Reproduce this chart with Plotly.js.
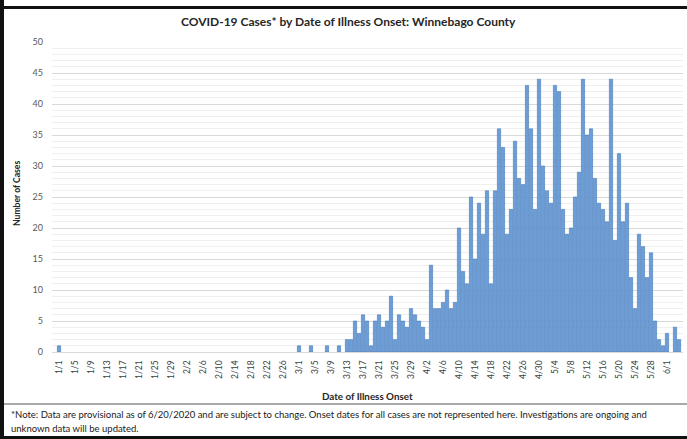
<!DOCTYPE html>
<html>
<head>
<meta charset="utf-8">
<script src="https://cdn.plot.ly/plotly-3.0.1.min.js"></script>
<style>
  html, body { margin: 0; padding: 0; background: #ffffff; }
  #chart { width: 687px; height: 439px; }
</style>
</head>
<body>
<div id="chart"></div>
<script>
// ---- Data (cases by date of illness onset, 2020) ----
const janCases = [1, 0,0,0,0,0,0,0,0,0,0, 0,0,0,0,0,0,0,0,0,0, 0,0,0,0,0,0,0,0,0,0];
const febCases = [0,0,0,0,0,0,0,0,0,0, 0,0,0,0,0,0,0,0,0,0, 0,0,0,0,0,0,0,0,0];
const marCases = [1,0,0,1,0,0,0,1,0,0, 1,0,2,2,5,3,6,5,1,5, 6,4,5,9,2,6,5,4,7,6, 5];
const aprCases = [4,2,14,7,7,8,10,7,8,20, 13,11,25,15,24,19,26,11,26,36, 33,19,23,34,28,27,43,36,23,44];
const mayCases = [30,26,24,43,42,23,19,20,25,29, 44,35,36,28,24,23,21,44,18,32, 21,24,12,7,19,17,12,16,5,2, 1];
const junCases = [3,0,4,2];

const monthLengths = [31, 29, 31, 30, 31, 4];
const monthSeries = [janCases, febCases, marCases, aprCases, mayCases, junCases];

// category labels m/d
const dates = [];
const cases = [];
monthSeries.forEach((arr, mi) => {
  for (let d = 0; d < monthLengths[mi]; d++) {
    dates.push((mi + 1) + '/' + (d + 1));
    cases.push(arr[d]);
  }
});
// every 4th day labelled
const tickDates = dates.filter((_, i) => i % 4 === 0);

const titleText = 'COVID-19 Cases* by Date of Illness Onset: Winnebago County';
const xTitle = 'Date of Illness Onset';
const yTitle = 'Number of Cases';
const noteLine1 = '*Note: Data are provisional as of 6/20/2020 and are subject to change. Onset dates for all cases are not represented here. Investigations are ongoing and';
const noteLine2 = 'unknown data will be updated.';

// ---- geometry helpers (pixel -> paper) ----
const WIDTH = 687, HEIGHT = 439;
const M = { l: 52, r: 4, t: 42, b: 87 };
const PW = WIDTH - M.l - M.r, PH = HEIGHT - M.t - M.b;
const px = x => (x - M.l) / PW;
const py = y => (HEIGHT - M.b - y) / PH;

const FONT = 'Lato, "Open Sans", "Liberation Sans", sans-serif';

const trace = {
  type: 'bar',
  x: dates,
  y: cases,
  marker: {
    color: '#6b9dd6',
    line: { color: '#4a7ab8', width: cases.map(v => (v > 0 ? 0.6 : 0)) }
  },
  hoverinfo: 'x+y'
};

const layout = {
  width: WIDTH, height: HEIGHT,
  margin: M,
  paper_bgcolor: '#ffffff', plot_bgcolor: '#ffffff',
  showlegend: false,
  bargap: 0.18,
  font: { family: FONT, color: '#595959' },
  xaxis: {
    type: 'category',
    tickmode: 'array', tickvals: tickDates, ticktext: tickDates,
    tickangle: -90,
    tickfont: { size: 8.5, color: '#404040', family: FONT },
    showgrid: false, showline: true, linecolor: '#d9d9d9', linewidth: 1,
    ticks: '', ticklabelstandoff: 4,
    range: [-1.75, dates.length]
  },
  yaxis: {
    range: [0, 50], dtick: 5, tick0: 0,
    tickfont: { size: 9, color: '#595959', family: FONT },
    showgrid: true, gridcolor: '#d9d9d9', gridwidth: 1,
    minor: { dtick: 1, showgrid: true, gridcolor: '#efefef', gridwidth: 1 },
    zeroline: false, showline: false, ticks: '', ticklabelstandoff: 8
  },
  annotations: [
    { text: '<b>' + titleText + '</b>', xref: 'paper', yref: 'paper', x: px(348), y: py(21),
      xanchor: 'center', yanchor: 'middle', showarrow: false,
      font: { size: 12, color: '#262626', family: FONT } },
    { text: '<b>' + xTitle + '</b>', xref: 'paper', yref: 'paper', x: px(367), y: py(396),
      xanchor: 'center', yanchor: 'middle', showarrow: false,
      font: { size: 9.8, color: '#262626', family: FONT } },
    { text: '<b>' + yTitle + '</b>', xref: 'paper', yref: 'paper', x: px(17), y: py(194),
      xanchor: 'center', yanchor: 'middle', showarrow: false, textangle: -90,
      font: { size: 8.6, color: '#262626', family: FONT } },
    { text: noteLine1, xref: 'paper', yref: 'paper', x: px(9), y: py(414),
      xanchor: 'left', yanchor: 'middle', align: 'left', showarrow: false,
      font: { size: 9.5, color: '#1a1a1a', family: FONT } },
    { text: noteLine2, xref: 'paper', yref: 'paper', x: px(9), y: py(428),
      xanchor: 'left', yanchor: 'middle', align: 'left', showarrow: false,
      font: { size: 9.5, color: '#1a1a1a', family: FONT } }
  ],
  shapes: [
    // frame: left, top, bottom
    { type: 'rect', xref: 'paper', yref: 'paper', x0: px(0), x1: px(4), y0: py(439), y1: py(0),
      fillcolor: '#111111', line: { width: 0 } },
    { type: 'rect', xref: 'paper', yref: 'paper', x0: px(0), x1: px(687), y0: py(9), y1: py(6),
      fillcolor: '#111111', line: { width: 0 } },
    { type: 'rect', xref: 'paper', yref: 'paper', x0: px(0), x1: px(687), y0: py(439), y1: py(436),
      fillcolor: '#111111', line: { width: 0 } },
    // separator above note
    { type: 'line', xref: 'paper', yref: 'paper', x0: px(4), x1: px(687), y0: py(404), y1: py(404),
      line: { color: '#555555', width: 1 } }
  ]
};

Plotly.newPlot('chart', [trace], layout, { displayModeBar: false, staticPlot: true });
</script>
</body>
</html>
